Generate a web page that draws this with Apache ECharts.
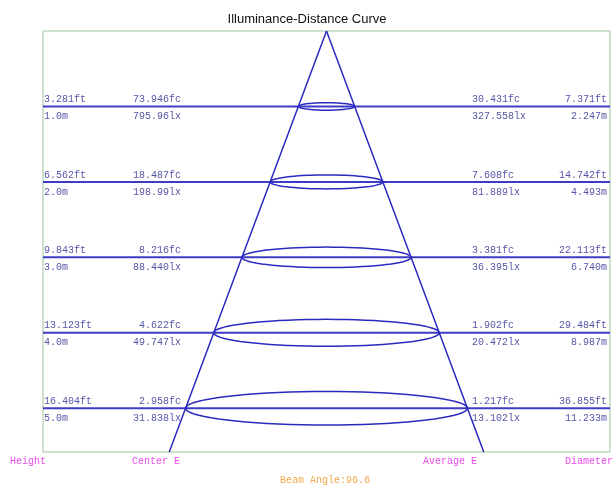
<!DOCTYPE html>
<html>
<head>
<meta charset="utf-8">
<script src="https://cdn.jsdelivr.net/npm/echarts@6/dist/echarts.min.js"></script>
<style>
  html, body { margin: 0; padding: 0; background: #fff; }
  #chart { width: 614px; height: 487px; }
</style>
</head>
<body>
<div id="chart"></div>
<script>
  // distances (m) and the values printed on each row
  var heightsM = [1, 2, 3, 4, 5];
  var heightsFt = ['3.281ft', '6.562ft', '9.843ft', '13.123ft', '16.404ft'];
  var centerFc = ['73.946fc', '18.487fc', '8.216fc', '4.622fc', '2.958fc'];
  var centerLx = ['795.96lx', '198.99lx', '88.440lx', '49.747lx', '31.838lx'];
  var averageFc = ['30.431fc', '7.608fc', '3.381fc', '1.902fc', '1.217fc'];
  var averageLx = ['327.558lx', '81.889lx', '36.395lx', '20.472lx', '13.102lx'];
  var diameterFt = ['7.371ft', '14.742ft', '22.113ft', '29.484ft', '36.855ft'];
  var diameterM = [2.247, 4.493, 6.740, 8.987, 11.233];
  var beamAngle = 96.6;

  var yMax = 5.58;
  var xMax = 11.3;
  var lineColor = '#3c3cc6';
  var coneColor = '#2a2abf';
  var textColor = '#5656a8';
  var mono = '"Liberation Mono", "DejaVu Sans Mono", monospace';

  var chart = echarts.init(document.getElementById('chart'));

  // cone edges go through the beam edge at each height, then on to the bottom of the box
  var leftEdge = [[0, 0]];
  var rightEdge = [[0, 0]];
  for (var i = 0; i < heightsM.length; i++) {
    leftEdge.push([-diameterM[i] / 2, heightsM[i]]);
    rightEdge.push([diameterM[i] / 2, heightsM[i]]);
  }
  var last = heightsM.length - 1;
  var k = yMax / heightsM[last];
  leftEdge.push([-diameterM[last] / 2 * k, yMax]);
  rightEdge.push([diameterM[last] / 2 * k, yMax]);

  var rows = heightsM.map(function (h, i) { return [0, h, i]; });
  var spots = heightsM.map(function (h, i) { return [diameterM[i] / 2, h]; });

  function txt(x, y, s, align) {
    return {
      type: 'text',
      style: { x: x, y: y, text: s, fill: textColor, font: '10px ' + mono, textAlign: align, textVerticalAlign: 'middle' }
    };
  }

  var option = {
    animation: false,
    title: {
      text: 'Illuminance-Distance Curve',
      left: 'center',
      top: 8,
      textStyle: { fontFamily: '"Liberation Sans", Arial, sans-serif', fontSize: 13, fontWeight: 'normal', color: '#111' }
    },
    grid: { left: 43, right: 4, top: 31, bottom: 35, show: true, borderColor: '#9cc39c', borderWidth: 1 },
    xAxis: { type: 'value', min: -xMax, max: xMax, show: false },
    yAxis: { type: 'value', min: 0, max: yMax, inverse: true, show: false },
    graphic: [
      { type: 'text', left: 10, top: 456, style: { text: 'Height', fill: '#e84be8', font: '10px ' + mono } },
      { type: 'text', left: 132, top: 456, style: { text: 'Center E', fill: '#e84be8', font: '10px ' + mono } },
      { type: 'text', left: 423, top: 456, style: { text: 'Average E', fill: '#e84be8', font: '10px ' + mono } },
      { type: 'text', left: 565, top: 456, style: { text: 'Diameter', fill: '#e84be8', font: '10px ' + mono } },
      { type: 'text', left: 280, top: 475, style: { text: 'Beam Angle:' + beamAngle, fill: '#f0a84c', font: '10px ' + mono } }
    ],
    series: [
      {
        type: 'custom',
        data: rows,
        silent: true,
        z: 2,
        renderItem: function (params, api) {
          var cs = params.coordSys;
          var i = api.value(2);
          var y = api.coord([0, api.value(1)])[1];
          var x0 = cs.x, x1 = cs.x + cs.width;
          return {
            type: 'group',
            children: [
              { type: 'line', shape: { x1: x0, y1: y, x2: x1, y2: y }, style: { stroke: lineColor, lineWidth: 2 } },
              txt(x0 + 1, y - 7, heightsFt[i], 'left'),
              txt(x0 + 1, y + 10, heightsM[i].toFixed(1) + 'm', 'left'),
              txt(181, y - 7, centerFc[i], 'right'),
              txt(181, y + 10, centerLx[i], 'right'),
              txt(472, y - 7, averageFc[i], 'left'),
              txt(472, y + 10, averageLx[i], 'left'),
              txt(x1 - 3, y - 7, diameterFt[i], 'right'),
              txt(x1 - 3, y + 10, diameterM[i].toFixed(3) + 'm', 'right')
            ]
          };
        }
      },
      {
        type: 'line', data: leftEdge, symbol: 'none', silent: true, z: 3,
        lineStyle: { color: coneColor, width: 1.5 }
      },
      {
        type: 'line', data: rightEdge, symbol: 'none', silent: true, z: 3,
        lineStyle: { color: coneColor, width: 1.5 }
      },
      {
        type: 'custom',
        data: spots,
        silent: true,
        z: 4,
        renderItem: function (params, api) {
          var c = api.coord([0, api.value(1)]);
          var e = api.coord([api.value(0), api.value(1)]);
          var rx = e[0] - c[0];
          var ry = rx * 0.115 + 0.5;
          var pts = [];
          for (var t = 0; t <= 72; t++) {
            var a = t / 72 * Math.PI * 2;
            pts.push([c[0] + rx * Math.cos(a), c[1] + ry * Math.sin(a)]);
          }
          return { type: 'polygon', shape: { points: pts }, style: { fill: 'none', stroke: coneColor, lineWidth: 1.5 } };
        }
      }
    ]
  };

  chart.setOption(option);
</script>
</body>
</html>
